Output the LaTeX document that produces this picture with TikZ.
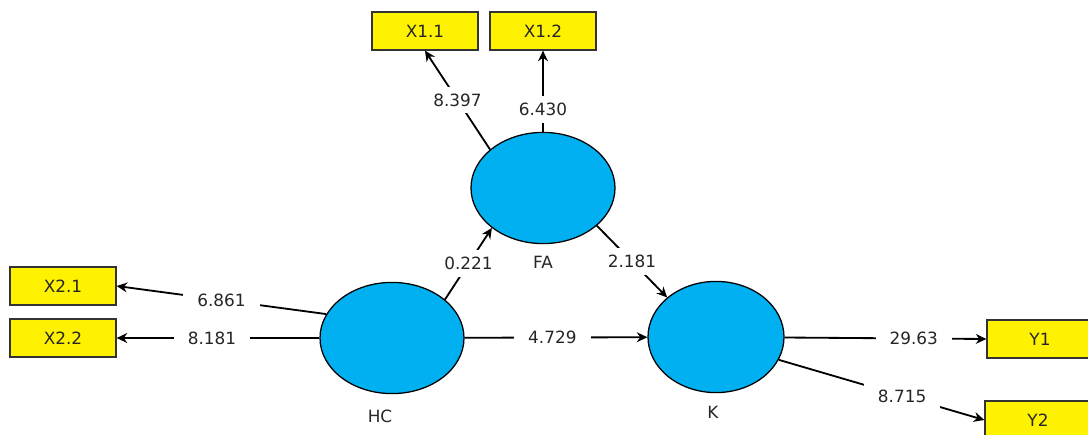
\documentclass[tikz,border=0pt]{standalone}
\usepackage{fontspec}
\setmainfont{DejaVu Sans}
\usetikzlibrary{arrows.meta,shapes.geometric}

\definecolor{latentblue}{RGB}{0,176,240}

\begin{document}
\begin{tikzpicture}[
        latent/.style={ellipse,draw=black,line width=0.9pt,fill=latentblue,minimum width=3.6cm,minimum height=2.78cm},
        indicator/.style={rectangle,draw=black!80,line width=0.9pt,fill=yellow,minimum width=2.65cm,minimum height=0.95cm},
        loading/.style={line width=1.3pt,-{Stealth[length=7.5pt,width=7pt]}},
        coef/.style={fill=white,inner xsep=10pt,inner ysep=5pt},
        font=\fontsize{12}{14}\selectfont,text=black!85]
            \useasboundingbox (0,0) rectangle (27.2,10.85);

            % latent variables
            \node[latent] (fa) at (13.575,6.15) {};
            \node[latent] (hc) at (9.8,2.4) {};
            \node[latent,minimum width=3.4cm] (k) at (17.9,2.425) {};

            \node (falbl) at (13.575,4.3) {FA};
            \node (hclbl) at (9.5,0.45) {HC};
            \node (klbl) at (17.825,0.55) {K};

            % indicators
            \node[indicator] (x11) at (10.625,10.075) {X1.1};
            \node[indicator] (x12) at (13.575,10.075) {X1.2};
            \node[indicator] (x21) at (1.575,3.7) {X2.1};
            \node[indicator] (x22) at (1.575,2.4) {X2.2};
            \node[indicator] (y1) at (26.0,2.375) {Y1};
            \node[indicator] (y2) at (25.95,0.35) {Y2};

            % outer loadings
            \draw[loading] (fa.144) -- node[coef,pos=0.5] {8.397} (x11.south);
            \draw[loading] (fa) -- node[coef,pos=0.27] {6.430} (x12);
            \draw[loading] (hc.160) -- node[coef,pos=0.5] {6.861} (x21.east);
            \draw[loading] (hc) -- node[coef,pos=0.53] {8.181} (x22.east);
            \draw[loading] (k) -- node[coef,pos=0.64] {29.63} (y1.west);
            \draw[loading] (k.340) -- node[coef,pos=0.6] {8.715} (y2.west);

            % inner paths
            \draw[loading] (hc.36) -- node[coef,pos=0.5] {0.221} (fa.218);
            \draw[loading] (fa.325) -- node[coef,pos=0.5] {2.181} (k.141);
            \draw[loading] (hc) -- node[coef,pos=0.48] {4.729} (k);
        \end{tikzpicture}
\end{document}
